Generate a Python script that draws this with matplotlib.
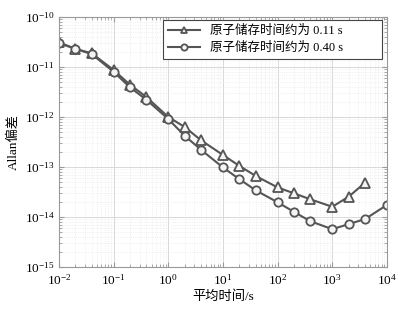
import matplotlib
matplotlib.use("Agg")
import matplotlib.pyplot as plt
from matplotlib.ticker import LogLocator, NullFormatter, LogFormatterSciNotation

plt.rcParams['font.family'] = ['Liberation Serif', 'Noto Sans CJK SC', 'DejaVu Sans']
plt.rcParams['mathtext.fontset'] = 'stix'

tau1 = [0.01, 0.02, 0.04, 0.1, 0.2, 0.4, 1, 2, 4, 10, 20, 40, 100, 200, 400, 1000, 2000, 4000]
adev1 = [3.1e-11, 2.3e-11, 1.87e-11, 8.7e-12, 4.4e-12, 2.5e-12, 1.0e-12, 6.3e-13, 3.4e-13,
         1.74e-13, 1.05e-13, 6.6e-14, 3.9e-14, 2.97e-14, 2.25e-14, 1.6e-14, 2.55e-14, 4.85e-14]
tau2 = [0.01, 0.02, 0.04, 0.1, 0.2, 0.4, 1, 2, 4, 10, 20, 40, 100, 200, 400, 1000, 2000, 4000, 10000]
adev2 = [3.0e-11, 2.3e-11, 1.8e-11, 8.0e-12, 3.9e-12, 2.2e-12, 9.1e-13, 4.2e-13, 2.2e-13,
         9.8e-14, 5.7e-14, 3.4e-14, 1.97e-14, 1.26e-14, 8.2e-15, 5.7e-15, 7.2e-15, 9.1e-15, 1.74e-14]
xticks = [1e-2, 1e-1, 1e0, 1e1, 1e2, 1e3, 1e4]
yticks = [1e-15, 1e-14, 1e-13, 1e-12, 1e-11, 1e-10]
labels = ['原子储存时间约为 0.11 s', '原子储存时间约为 0.40 s']
xlabel = '平均时间/s'
ylabel = 'Allan偏差'

fig = plt.figure(figsize=(4.06, 3.13), dpi=100)
ax = fig.add_axes([0.145, 0.147, 0.808, 0.799])
lc = '#555555'
ax.loglog(tau1, adev1, '-^', color=lc, lw=1.5, ms=6.5, mfc='#f4f4f4', mec=lc, mew=1.3, label=labels[0])
ax.loglog(tau2, adev2, '-o', color=lc, lw=1.5, ms=6, mfc='#f4f4f4', mec=lc, mew=1.3, label=labels[1])
ax.set_xlim(xticks[0], xticks[-1])
ax.set_ylim(yticks[0], yticks[-1])
ax.set_xticks(xticks)
ax.set_yticks(yticks)
ax.xaxis.set_major_formatter(LogFormatterSciNotation())
ax.yaxis.set_major_formatter(LogFormatterSciNotation())
ax.xaxis.set_minor_locator(LogLocator(base=10, subs=range(2, 10), numticks=100))
ax.yaxis.set_minor_locator(LogLocator(base=10, subs=range(2, 10), numticks=100))
ax.xaxis.set_minor_formatter(NullFormatter())
ax.yaxis.set_minor_formatter(NullFormatter())
ax.grid(True, which='major', color='#d8d8d8', lw=0.7)
ax.grid(True, which='minor', color='#e6e6e6', lw=0.5, ls=':')
ax.tick_params(which='both', direction='in', top=True, right=True, colors='#999999',
               labelcolor='black', labelsize=9.5)
ax.tick_params(axis='x', which='major', pad=4.5)
ax.tick_params(axis='y', which='major', pad=3)
ax.tick_params(which='major', length=3.5)
ax.tick_params(which='minor', length=2)
for s in ax.spines.values():
    s.set_color('#999999')
ax.set_xlabel(xlabel, fontsize=9.5, labelpad=2)
ax.set_ylabel(ylabel, fontsize=9.5, labelpad=4)
leg = ax.legend(loc='upper left', bbox_to_anchor=(0.317, 0.988, 0.668, 0), mode='expand',
                borderaxespad=0, fontsize=9, frameon=True, fancybox=False,
                edgecolor='#444444', framealpha=1, handlelength=2.6, markerscale=0.75,
                borderpad=0.4, labelspacing=0.4)
leg.get_frame().set_linewidth(0.8)
fig.savefig('out.png', dpi=100)
